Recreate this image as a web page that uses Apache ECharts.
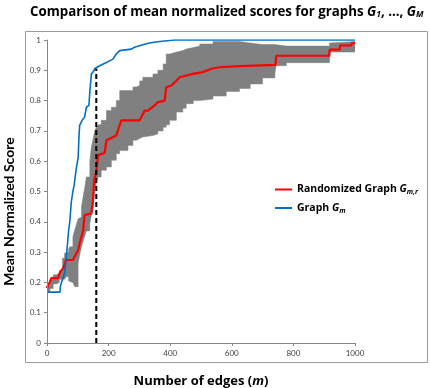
<!DOCTYPE html>
<html>
<head>
<meta charset="utf-8">
<script src="https://cdn.jsdelivr.net/npm/echarts@6/dist/echarts.min.js"></script>
<style>
  html, body { margin: 0; padding: 0; background: #fff; }
  #chart { width: 430px; height: 388px; }
</style>
</head>
<body>
<div id="chart"></div>
<script>
// Graph G_m (blue)
const blueX = [0, 42, 44, 50, 57, 63, 66, 70, 74, 79, 84, 88, 95, 101, 104, 106, 114, 122, 128, 136, 139, 144, 150, 155, 171, 193, 214, 225, 236, 274, 284, 311, 333, 359, 414, 1000];
const blueY = [0.168, 0.168, 0.19, 0.195, 0.23, 0.29, 0.32, 0.37, 0.40, 0.466, 0.50, 0.52, 0.576, 0.61, 0.685, 0.718, 0.735, 0.745, 0.778, 0.784, 0.828, 0.888, 0.895, 0.905, 0.915, 0.926, 0.937, 0.954, 0.965, 0.97, 0.976, 0.984, 0.99, 0.994, 1.0, 1.0];

// Randomized graph G_m,r (red)
const redX = [0, 3, 9, 14, 36, 41, 47, 52, 58, 61, 84, 90, 101, 106, 112, 117, 122, 144, 149, 153, 160, 166, 187, 193, 203, 225, 241, 301, 306, 317, 328, 349, 360, 382, 387, 404, 420, 431, 474, 506, 534, 560, 625, 742, 744, 916, 918, 950, 952, 988, 990, 1000];
const redY = [0.181, 0.19, 0.20, 0.214, 0.214, 0.23, 0.24, 0.247, 0.26, 0.274, 0.274, 0.285, 0.307, 0.329, 0.335, 0.37, 0.422, 0.428, 0.466, 0.537, 0.565, 0.62, 0.627, 0.669, 0.674, 0.685, 0.735, 0.735, 0.745, 0.767, 0.767, 0.784, 0.795, 0.80, 0.844, 0.85, 0.866, 0.877, 0.888, 0.894, 0.905, 0.91, 0.914, 0.918, 0.948, 0.948, 0.968, 0.968, 0.982, 0.982, 0.99, 0.99];

// error bar envelope around the randomized mean
const bandX = [0, 10, 20, 30, 40, 50, 57, 63, 70, 74, 84, 90, 95, 101, 106, 112, 117, 122, 128, 139, 144, 149, 155, 160, 166, 176, 193, 209, 225, 236, 263, 279, 290, 301, 311, 344, 360, 377, 387, 398, 420, 441, 452, 475, 496, 539, 582, 625, 660, 700, 740, 744, 777, 917, 920, 1000];
const bandLow = [0.17, 0.18, 0.195, 0.20, 0.21, 0.21, 0.215, 0.219, 0.205, 0.20, 0.197, 0.186, 0.186, 0.263, 0.29, 0.318, 0.335, 0.351, 0.37, 0.395, 0.42, 0.438, 0.504, 0.53, 0.548, 0.57, 0.581, 0.603, 0.625, 0.635, 0.652, 0.669, 0.675, 0.68, 0.685, 0.69, 0.70, 0.712, 0.72, 0.735, 0.762, 0.775, 0.79, 0.80, 0.805, 0.815, 0.83, 0.84, 0.855, 0.875, 0.89, 0.915, 0.925, 0.93, 0.96, 0.96];
const bandHigh = [0.19, 0.21, 0.225, 0.23, 0.24, 0.28, 0.296, 0.30, 0.31, 0.318, 0.35, 0.373, 0.39, 0.41, 0.416, 0.45, 0.482, 0.51, 0.548, 0.60, 0.647, 0.67, 0.70, 0.712, 0.72, 0.735, 0.767, 0.778, 0.80, 0.833, 0.833, 0.845, 0.85, 0.865, 0.877, 0.888, 0.90, 0.921, 0.954, 0.96, 0.965, 0.97, 0.975, 0.98, 0.987, 0.995, 0.995, 0.99, 0.985, 0.985, 0.98, 0.98, 0.98, 0.99, 0.995, 0.995];

// vertical dashed marker
const cutoffX = 160;
const cutoffY = [0, 0.905];

const xTicks = [0, 200, 400, 600, 800, 1000];
const yTicks = [0, 0.1, 0.2, 0.3, 0.4, 0.5, 0.6, 0.7, 0.8, 0.9, 1];

const chart = echarts.init(document.getElementById('chart'), null, { renderer: 'canvas' });

const font = 'Lato, sans-serif';
const wide = '"Open Sans", sans-serif';
const pair = (xs, ys) => xs.map((x, i) => [x, ys[i]]);

const richFor = (size, sub, pad) => ({
  t: { fontFamily: wide, fontWeight: 'bold', fontSize: size, color: '#000' },
  g: { fontFamily: wide, fontWeight: 'bold', fontStyle: 'italic', fontSize: size, color: '#000' },
  s: { fontFamily: wide, fontWeight: 'bold', fontStyle: 'italic', fontSize: sub, color: '#000', padding: [pad, 0, 0, 0] }
});

const option = {
  backgroundColor: '#fff',
  animation: false,
  title: {
    text: '{t|Comparison of mean normalized scores for graphs }{g|G}{s|1}{t|, ..., }{g|G}{s|M}',
    left: 25,
    top: 0,
    textStyle: { rich: richFor(13.3, 8.5, 5) }
  },
  graphic: [{
    type: 'rect',
    shape: { x: 25.5, y: 31.5, width: 402, height: 331 },
    style: { fill: 'none', stroke: '#9a9a9a', lineWidth: 1 },
    z: -1
  }],
  legend: {
    orient: 'vertical',
    left: 270,
    top: 179,
    itemWidth: 17,
    itemHeight: 2,
    itemGap: 7,
    icon: 'rect',
    data: ['Randomized Graph', 'Graph'],
    formatter: (name) => name === 'Graph'
      ? '{t|Graph }{g|G}{s|m}'
      : '{t|Randomized Graph }{g|G}{s|m,r}',
    textStyle: { rich: richFor(10.5, 7, 5) }
  },
  grid: {
    left: 47,
    right: 75,
    top: 40,
    bottom: 45,
    containLabel: false,
    outerBoundsMode: 'none'
  },
  xAxis: {
    type: 'value',
    z: 10,
    min: xTicks[0],
    max: xTicks[xTicks.length - 1],
    interval: xTicks[1] - xTicks[0],
    name: '{t|Number of edges (}{g|m}{t|)}',
    nameLocation: 'middle',
    nameGap: 32,
    nameTextStyle: { rich: richFor(13, 8, 5) },
    axisLine: { lineStyle: { color: '#868686', width: 1 } },
    axisTick: { show: true, length: 3, lineStyle: { color: '#868686' } },
    axisLabel: { fontFamily: font, fontSize: 8, color: '#404040', margin: 6, formatter: (v) => String(v) },
    splitLine: { show: false }
  },
  yAxis: {
    type: 'value',
    z: 10,
    min: yTicks[0],
    max: yTicks[yTicks.length - 1],
    interval: 0.1,
    name: 'Mean Normalized Score',
    nameLocation: 'middle',
    nameGap: 31,
    nameTextStyle: { fontFamily: font, fontSize: 14, fontWeight: 'bold', color: '#000', padding: [0, 40, 0, 0] },
    axisLine: { show: true, lineStyle: { color: '#868686', width: 1 } },
    axisTick: { show: true, length: 3, lineStyle: { color: '#868686' } },
    axisLabel: { fontFamily: font, fontSize: 8, color: '#404040', margin: 6, formatter: (v) => String(+v.toFixed(1)) },
    splitLine: { show: false }
  },
  series: [
    {
      name: 'bandHigh',
      type: 'line',
      step: 'end',
      data: pair(bandX, bandHigh),
      symbol: 'none',
      lineStyle: { color: '#808080', width: 0.5 },
      areaStyle: { color: '#808080', opacity: 1 },
      silent: true,
      z: 1
    },
    {
      name: 'bandLow',
      type: 'line',
      step: 'end',
      data: pair(bandX, bandLow),
      symbol: 'none',
      lineStyle: { color: '#808080', width: 0.5 },
      areaStyle: { color: '#ffffff', opacity: 1 },
      silent: true,
      z: 2
    },
    {
      name: 'Randomized Graph',
      type: 'line',
      data: pair(redX, redY),
      symbol: 'none',
      lineStyle: { color: '#ff0000', width: 2.2 },
      itemStyle: { color: '#ff0000' },
      z: 3
    },
    {
      name: 'Graph',
      type: 'line',
      data: pair(blueX, blueY),
      symbol: 'none',
      lineStyle: { color: '#0070c0', width: 1.6 },
      itemStyle: { color: '#0070c0' },
      z: 4
    },
    {
      name: 'cutoff',
      type: 'line',
      data: cutoffY.map(y => [cutoffX, y]),
      symbol: 'none',
      lineStyle: { color: '#000', width: 2, type: [5, 3] },
      z: 5
    }
  ]
};

chart.setOption(option);
window.addEventListener('resize', () => chart.resize());
</script>
</body>
</html>
